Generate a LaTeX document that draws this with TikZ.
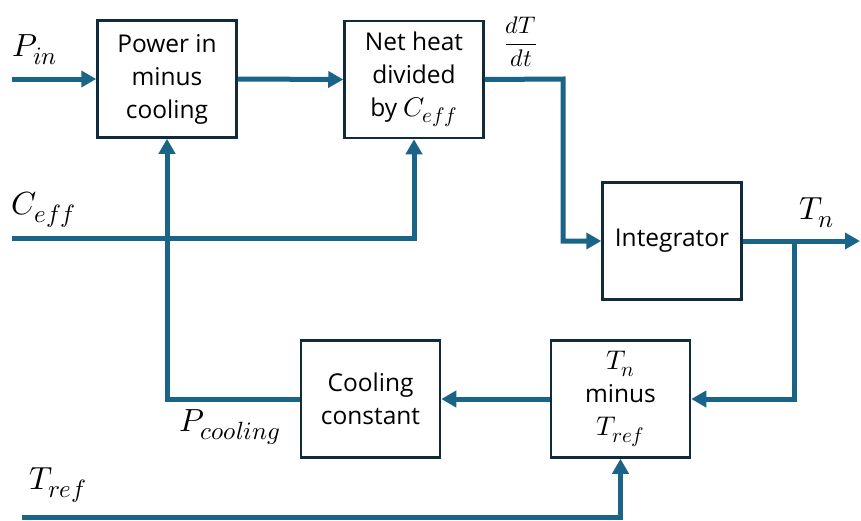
\documentclass[tikz,border=0pt]{standalone}
\usepackage{amsmath}
\usepackage{fontspec}
\usepackage{unicode-math}
\setmathfont{Latin Modern Math}
\setsansfont{Open Sans}
\DeclareMathSizes{32}{32}{25}{18}
\DeclareMathSizes{24.5}{27}{21}{15}
\DeclareMathSizes{24}{24}{18}{13}
\usetikzlibrary{arrows.meta}
\definecolor{flow}{HTML}{1A6488}
\definecolor{frame}{HTML}{0F2B3C}
\tikzset{
  block/.style={draw=frame, line width=2.5pt, fill=white, minimum width=139pt,
    minimum height=117pt, align=center, inner sep=2pt,
    font=\sffamily\fontsize{24.5}{33}\selectfont},
  wire/.style={draw=flow, line width=5pt},
  arr/.style={wire, -{Triangle[length=15pt, width=16pt]}},
  sig/.style={font=\fontsize{32}{32}\selectfont, inner sep=0pt}
}
\begin{document}
\begin{tikzpicture}[x=1pt, y=-1pt]
\useasboundingbox (0,0) rectangle (861,520);

% blocks
\node[block] (pw) at (167,79) {Power in\\minus\\cooling};
\node[block] (nh) at (414,79.5) {Net heat\\divided\\by $C_{eff}$};
\node[block] (int) at (672,241) {Integrator};
\node[block] (tm) at (620.5,399) {$T_n$\\minus\\$T_{ref}$};
\node[block] (cc) at (370.5,399) {Cooling\\constant};

% free ends and corners
\coordinate (pin) at (12,79);
\coordinate (ceff) at (12,238);
\coordinate (tref) at (22,517);
\coordinate (bend) at (563,79);
\coordinate (tout) at (860,241);
\coordinate (tap) at (794,241);

% signal labels
\node[sig] (lpin) at (35,50) {$P_{in}$};
\node[sig, font=\fontsize{24}{26}\selectfont] (ldt) at (521,42) {$\dfrac{dT}{dt}$};
\node[sig] (lceff) at (44,210) {$C_{eff}$};
\node[sig] (ltn) at (817,213) {$T_n$};
\node[sig] (lpc) at (230,427) {$P_{cooling}$};
\node[sig] (ltref) at (58,485) {$T_{ref}$};

% connectors
\draw[arr] (pin) -- (pw.west);
\draw[arr] (pw.east) -- (nh.west);
\draw[arr] (nh.east) -- (bend) |- (int.west);
\draw[arr] (int.east) -- (tout);
\draw[arr] (tap) |- (tm.east);
\draw[arr] (tm.west) -- (cc.east);
\draw[arr] (cc.west) -| (pw.south);
\draw[arr] (ceff) -| (nh.south);
\draw[arr] (tref) -| (tm.south);
\end{tikzpicture}
\end{document}
